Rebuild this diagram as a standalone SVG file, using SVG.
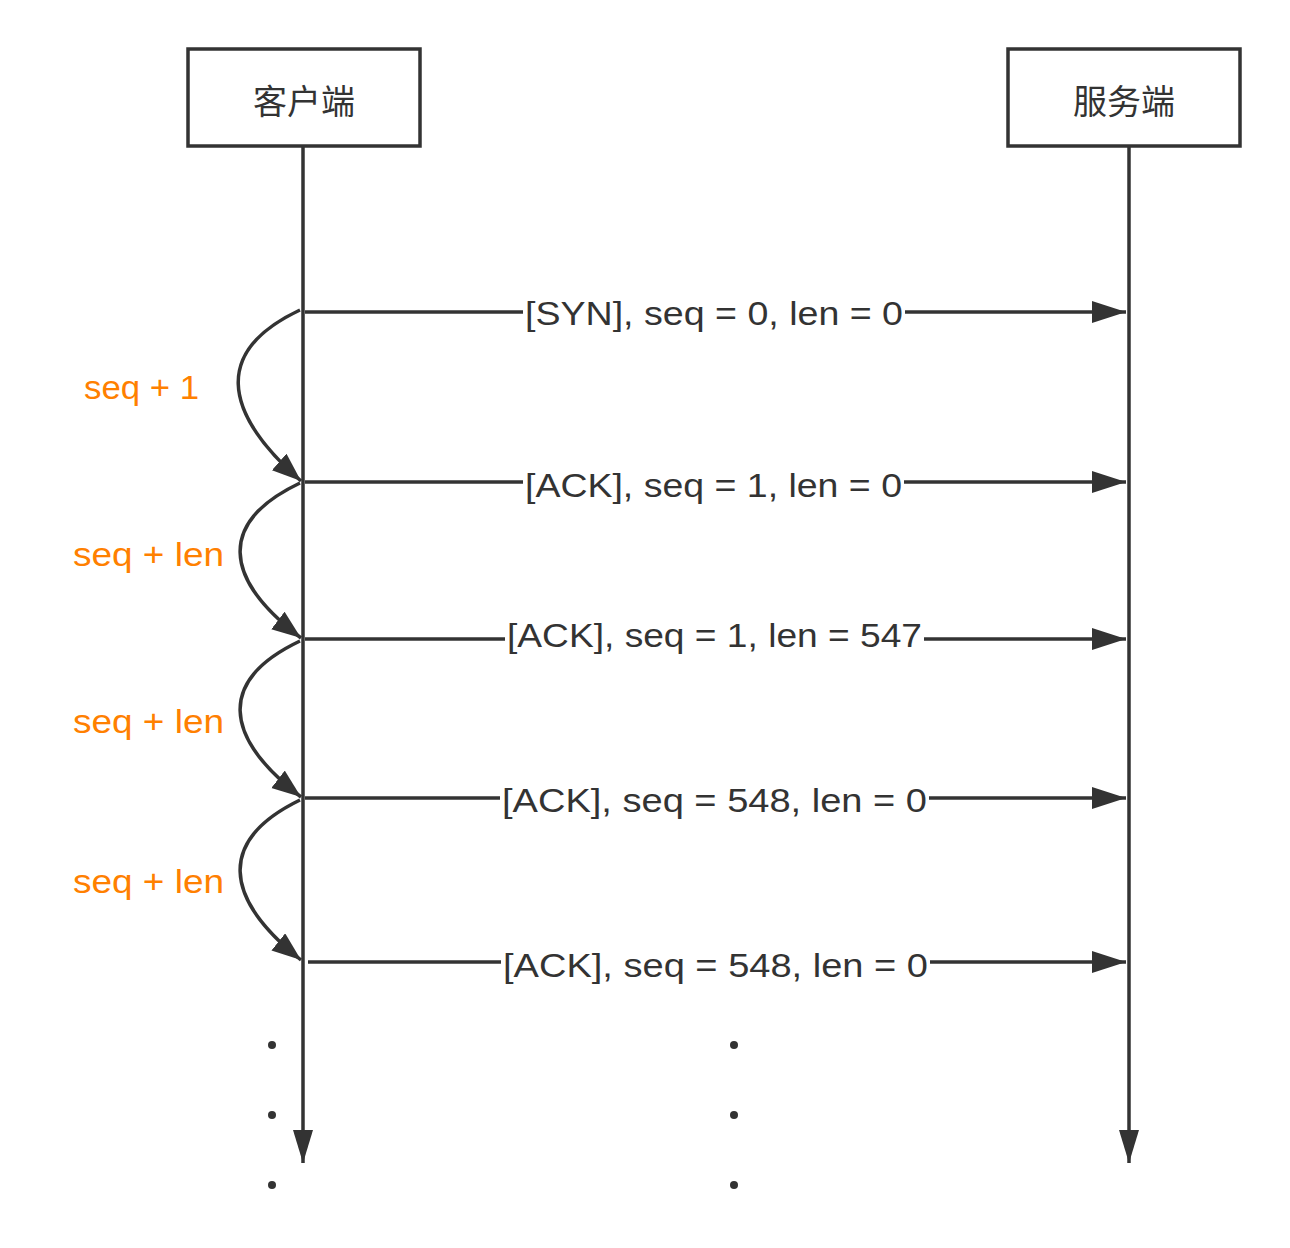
<svg xmlns="http://www.w3.org/2000/svg" width="1290" height="1248" viewBox="0 0 1290 1248">
  <style>
    .box { fill: #ffffff; stroke: #333333; stroke-width: 3.5; }
    .line { fill: none; stroke: #333333; stroke-width: 3.5; }
    .title { font-family: "Noto Sans CJK SC", "Liberation Sans", sans-serif; font-size: 34px; fill: #333333; text-anchor: middle; }
    .msg { font-family: "Liberation Sans", "Noto Sans", sans-serif; font-size: 33px; fill: #333333; }
    .note { font-family: "Liberation Sans", "Noto Sans", sans-serif; font-size: 33px; fill: #FF8000; }
    .bg { fill: #ffffff; }
    .dot { fill: #333333; }
  </style>
  <defs>
    <marker id="arrowH" markerUnits="userSpaceOnUse" markerWidth="36" markerHeight="24" refX="34" refY="11" orient="auto">
      <path d="M0,0 L34,11 L0,22 Z" fill="#333333"/>
    </marker>
    <marker id="arrowV" markerUnits="userSpaceOnUse" markerWidth="36" markerHeight="22" refX="33" refY="10" orient="auto">
      <path d="M0,0 L33,10 L0,20 Z" fill="#333333"/>
    </marker>
    <marker id="arrowC" markerUnits="userSpaceOnUse" markerWidth="32" markerHeight="24" refX="29" refY="11" orient="auto">
      <path d="M0,0 L29,11 L0,22 Z" fill="#333333"/>
    </marker>
  </defs>

  <g id="client">
    <rect class="box" x="188" y="49" width="232" height="97"/>
    <text class="title" x="304" y="114">客户端</text>
  </g>
  <g id="server">
    <rect class="box" x="1008" y="49" width="232" height="97"/>
    <text class="title" x="1124" y="114">服务端</text>
  </g>

  <g id="connectors">
    <line class="line" x1="303" y1="147" x2="303" y2="1163" marker-end="url(#arrowV)"/>
    <line class="line" x1="1129" y1="147" x2="1129" y2="1163" marker-end="url(#arrowV)"/>

    <line class="line" x1="305" y1="312" x2="1126" y2="312" marker-end="url(#arrowH)"/>
    <line class="line" x1="305" y1="482" x2="1126" y2="482" marker-end="url(#arrowH)"/>
    <line class="line" x1="305" y1="639" x2="1126" y2="639" marker-end="url(#arrowH)"/>
    <line class="line" x1="305" y1="798" x2="1126" y2="798" marker-end="url(#arrowH)"/>
    <line class="line" x1="308" y1="962" x2="1126" y2="962" marker-end="url(#arrowH)"/>

    <path class="line" d="M300,310 C215,350 220,410 301,481" marker-end="url(#arrowC)"/>
    <path class="line" d="M300,483 C218,522 222,578 301,638" marker-end="url(#arrowC)"/>
    <path class="line" d="M300,641 C218,680 222,736 301,797" marker-end="url(#arrowC)"/>
    <path class="line" d="M300,800 C218,840 222,897 301,960" marker-end="url(#arrowC)"/>
  </g>

  <g id="msg1">
    <rect class="bg" x="523" y="296" width="382" height="36"/>
    <text class="msg" x="525" y="325" textLength="378" lengthAdjust="spacingAndGlyphs">[SYN], seq = 0, len = 0</text>
  </g>
  <g id="msg2">
    <rect class="bg" x="523" y="468" width="381" height="36"/>
    <text class="msg" x="525" y="497" textLength="377" lengthAdjust="spacingAndGlyphs">[ACK], seq = 1, len = 0</text>
  </g>
  <g id="msg3">
    <rect class="bg" x="505" y="618" width="419" height="36"/>
    <text class="msg" x="507" y="647" textLength="415" lengthAdjust="spacingAndGlyphs">[ACK], seq = 1, len = 547</text>
  </g>
  <g id="msg4">
    <rect class="bg" x="500" y="783" width="429" height="36"/>
    <text class="msg" x="502" y="812" textLength="425" lengthAdjust="spacingAndGlyphs">[ACK], seq = 548, len = 0</text>
  </g>
  <g id="msg5">
    <rect class="bg" x="501" y="948" width="429" height="36"/>
    <text class="msg" x="503" y="977" textLength="425" lengthAdjust="spacingAndGlyphs">[ACK], seq = 548, len = 0</text>
  </g>

  <g id="note1">
    <text class="note" x="84" y="399" textLength="115" lengthAdjust="spacingAndGlyphs">seq + 1</text>
  </g>
  <g id="note2">
    <text class="note" x="73" y="566" textLength="151" lengthAdjust="spacingAndGlyphs">seq + len</text>
  </g>
  <g id="note3">
    <text class="note" x="73" y="733" textLength="151" lengthAdjust="spacingAndGlyphs">seq + len</text>
  </g>
  <g id="note4">
    <text class="note" x="73" y="893" textLength="151" lengthAdjust="spacingAndGlyphs">seq + len</text>
  </g>

  <g id="ellipsis">
    <circle class="dot" cx="272" cy="1045" r="4"/>
    <circle class="dot" cx="272" cy="1115" r="4"/>
    <circle class="dot" cx="272" cy="1185" r="4"/>
    <circle class="dot" cx="734" cy="1045" r="4"/>
    <circle class="dot" cx="734" cy="1115" r="4"/>
    <circle class="dot" cx="734" cy="1185" r="4"/>
  </g>
</svg>
